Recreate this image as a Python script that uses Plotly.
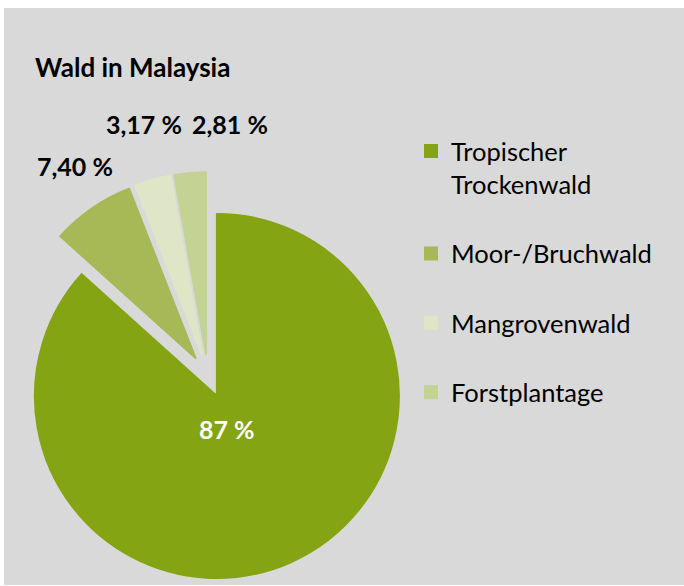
import plotly.graph_objects as go

# ---- data ----
categories = ["Tropischer Trockenwald", "Moor-/Bruchwald", "Mangrovenwald", "Forstplantage"]
legend_labels = ["Tropischer<br>Trockenwald<br>\u00a0", "Moor-/Bruchwald<br>\u00a0",
                 "Mangrovenwald<br>\u00a0", "Forstplantage<br>\u00a0"]
values = [87, 7.40, 3.17, 2.81]
value_labels = ["87 %", "7,40 %", "3,17 %", "2,81 %"]
colors = ["#84A414", "#A7B857", "#DFE6C8", "#C4D294"]
label_colors = ["white", "black", "black", "black"]
# manual data-label anchor points (pixels), as positioned in the source chart
label_px = [(227, 429), (74.5, 166), (144, 124), (230.5, 124)]

W, H = 684, 586
BG = "#D9D9D9"
FONT = "Lato"

fig = go.Figure()
fig.add_trace(go.Pie(
    labels=legend_labels,
    values=values,
    textinfo="none",
    hoverinfo="skip",
    sort=False,
    direction="clockwise",
    rotation=0,
    pull=[0.12, 0.12, 0.12, 0.12],
    marker=dict(colors=colors, line=dict(color=colors, width=2)),
    domain=dict(x=[4.15 / W, 411.85 / W], y=[6.15 / H, 413.85 / H]),
))

annotations = []
for txt, col, pos in zip(value_labels, label_colors, label_px):
    annotations.append(dict(text=f"<b>{txt}</b>", x=pos[0] / W, y=1 - pos[1] / H,
                            xref="paper", yref="paper", showarrow=False,
                            xanchor="center", yanchor="middle",
                            font=dict(family=FONT, size=25, color=col)))

fig.update_layout(
    width=W, height=H,
    margin=dict(l=0, r=0, t=0, b=0, autoexpand=False),
    paper_bgcolor="white",
    plot_bgcolor=BG,
    title=dict(text="<b>Wald in Malaysia</b>", x=35 / W, xanchor="left",
               y=1 - 68 / H, yanchor="middle", xref="container", yref="container",
               font=dict(family=FONT, size=26, color="black")),
    legend=dict(x=411 / W, xanchor="left", y=1 - 128 / H, yanchor="top",
                valign="top", bgcolor="rgba(0,0,0,0)",
                font=dict(family=FONT, size=25.5, color="black")),
    shapes=[dict(type="rect", xref="paper", yref="paper", layer="below",
                 x0=4 / W, x1=1, y0=1 / H, y1=1 - 8 / H,
                 fillcolor=BG, line=dict(width=0))],
    annotations=annotations,
    showlegend=True,
)

fig.write_html("out.html",
               config={"displayModeBar": False},
               post_script="document.body.style.margin='0';document.body.style.overflow='hidden';")
